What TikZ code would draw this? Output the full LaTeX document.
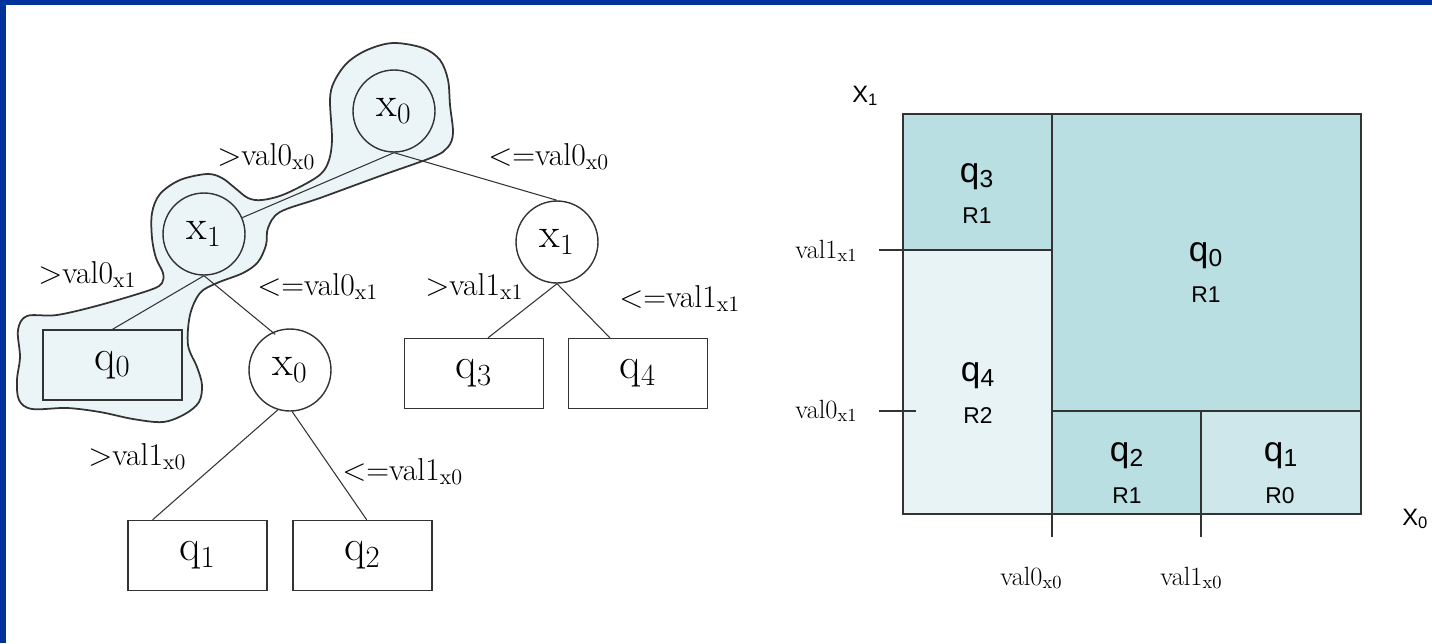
\documentclass[tikz,border=0pt]{standalone}
\usepackage{fontspec}
\newfontfamily\arialfont{Liberation Sans}
\usetikzlibrary{positioning,calc}

\definecolor{frameblue}{HTML}{003399}
\definecolor{tealfill}{HTML}{B9DFE3}
\definecolor{palefill}{HTML}{E8F3F5}
\definecolor{midfill}{HTML}{CDE7EA}
\definecolor{blobfill}{HTML}{EBF5F7}
\definecolor{linegray}{HTML}{333333}

\begin{document}
\begin{tikzpicture}[x=0.02cm,y=-0.02cm,
	testnode/.style={circle, draw=linegray, line width=0.8pt, minimum size=1.64cm, inner sep=0pt, font=\fontsize{24}{28}\selectfont},
	leafnode/.style={rectangle, draw=linegray, line width=0.8pt, minimum width=2.78cm, minimum height=1.4cm, inner sep=0pt, font=\fontsize{25}{29}\selectfont},
	branch/.style={draw=linegray, line width=0.6pt},
	edgelab/.style={anchor=base west, inner sep=0pt, font=\fontsize{18}{21}\selectfont},
	cutlab/.style={anchor=base west, inner sep=0pt, font=\fontsize{15}{18}\selectfont},
	regq/.style={anchor=base, inner sep=0pt, font=\arialfont\fontsize{20}{24}\selectfont},
	regr/.style={anchor=base, inner sep=0pt, font=\arialfont\fontsize{13}{15}\selectfont},
	axislab/.style={anchor=base west, inner sep=0pt, font=\arialfont\fontsize{13.5}{16}\selectfont}]
	\useasboundingbox (0,0) rectangle (1432,643);
	
	% 蓝色边框（上、左）
	\fill[frameblue] (0,0) rectangle (1432,5);
	\fill[frameblue] (0,0) rectangle (6,643);
	
	% 高亮的路径区域
	\draw[fill=blobfill, draw=linegray, line width=1pt] plot[smooth cycle, tension=0.55] coordinates {
		(393,43) (423,48) (440,60) (448,80) (450,105) (453,133) (448,147) (433,157)
		(380,176) (320,198) (280,212) (268,228) (266,245) (258,262) (243,273) (217,283)
		(200,293) (190,315) (188,345) (197,367) (202,385) (199,402) (185,414) (163,422)
		(133,419) (100,412) (67,408) (32,409) (19,400) (17,380) (20,357) (18,330)
		(27,316) (57,315) (100,305) (150,290) (162,283) (163,273) (156,258) (152,238)
		(152,213) (160,194) (180,180) (207,174) (222,178) (235,188) (248,198) (262,200)
		(285,194) (317,177) (328,163) (332,140) (330,100) (334,82) (347,63) (367,50)};
	
	% 决策树的结点
	\node[testnode] (rootx0) at (394,111) {x\textsubscript{0}};
	\node[testnode] (leftx1) at (204,234) {x\textsubscript{1}};
	\node[testnode] (rightx1) at (557,242) {x\textsubscript{1}};
	\node[testnode] (lowx0) at (290,370) {x\textsubscript{0}};
	\node[leafnode] (leafq0) at (112.5,365) {q\textsubscript{0}};
	\node[leafnode] (leafq3) at (474,373.5) {q\textsubscript{3}};
	\node[leafnode] (leafq4) at (638,373.5) {q\textsubscript{4}};
	\node[leafnode] (leafq1) at (197.5,555.5) {q\textsubscript{1}};
	\node[leafnode] (leafq2) at (362.5,555.5) {q\textsubscript{2}};
	
	% 分支
	\draw[branch] (rootx0.south) -- (leftx1);
	\draw[branch] (rootx0.south) -- (rightx1.north);
	\draw[branch] (leftx1.south) -- (leafq0.north);
	\draw[branch] (leftx1.south) -- ($(lowx0.north west)!0.5!(lowx0.north)$);
	\draw[branch] (rightx1.south) -- ($(leafq3.north west)!0.6!(leafq3.north east)$);
	\draw[branch] (rightx1.south) -- ($(leafq4.north west)!0.3!(leafq4.north east)$);
	\draw[branch] (lowx0.-107) -- ($(leafq1.north west)!0.18!(leafq1.north east)$);
	\draw[branch] (lowx0.-87) -- ($(leafq2.north west)!0.53!(leafq2.north east)$);
	
	% 分支上的条件
	\node[edgelab] (c1) at (217,165) {>val0\textsubscript{x0}};
	\node[edgelab] (c2) at (488,165) {<=val0\textsubscript{x0}};
	\node[edgelab] (c3) at (38,283) {>val0\textsubscript{x1}};
	\node[edgelab] (c4) at (257,295) {<=val0\textsubscript{x1}};
	\node[edgelab] (c5) at (425,295) {>val1\textsubscript{x1}};
	\node[edgelab] (c6) at (619,307) {<=val1\textsubscript{x1}};
	\node[edgelab] (c7) at (88,465) {>val1\textsubscript{x0}};
	\node[edgelab] (c8) at (342,480) {<=val1\textsubscript{x0}};
	
	% 右边：对空间的划分
	\draw[draw=linegray, line width=0.8pt, fill=tealfill] (903,114) rectangle (1052,250);
	\draw[draw=linegray, line width=0.8pt, fill=palefill] (903,250) rectangle (1052,514);
	\draw[draw=linegray, line width=0.8pt, fill=tealfill] (1052,114) rectangle (1361,411);
	\draw[draw=linegray, line width=0.8pt, fill=tealfill] (1052,411) rectangle (1201,514);
	\draw[draw=linegray, line width=0.8pt, fill=midfill] (1201,411) rectangle (1361,514);
	
	% 刻度
	\draw[branch, line width=0.8pt] (879,250) -- (903,250);
	\draw[branch, line width=0.8pt] (879,411) -- (916,411);
	\draw[branch, line width=0.8pt] (1052,514) -- (1052,537);
	\draw[branch, line width=0.8pt] (1201,514) -- (1201,537);
	
	\node[cutlab] (cut1) at (795,258) {val1\textsubscript{x1}};
	\node[cutlab] (cut2) at (795,418) {val0\textsubscript{x1}};
	\node[cutlab] (cut3) at (1000,585) {val0\textsubscript{x0}};
	\node[cutlab] (cut4) at (1160,585) {val1\textsubscript{x0}};
	
	\node[axislab] (axisx1) at (852,102) {X\textsubscript{1}};
	\node[axislab] (axisx0) at (1402,525) {X\textsubscript{0}};
	
	% 各区域的名字
	\node[regq] (rq3) at (977,182) {q\textsubscript{3}};
	\node[regr] (rr3) at (977,223) {R1};
	\node[regq] (rq0) at (1206,261) {q\textsubscript{0}};
	\node[regr] (rr0) at (1206,302) {R1};
	\node[regq] (rq4) at (978,381) {q\textsubscript{4}};
	\node[regr] (rr4) at (978,423) {R2};
	\node[regq] (rq2) at (1127,461) {q\textsubscript{2}};
	\node[regr] (rr2) at (1127,503) {R1};
	\node[regq] (rq1) at (1281,461) {q\textsubscript{1}};
	\node[regr] (rr1) at (1280,503) {R0};
\end{tikzpicture}
\end{document}
